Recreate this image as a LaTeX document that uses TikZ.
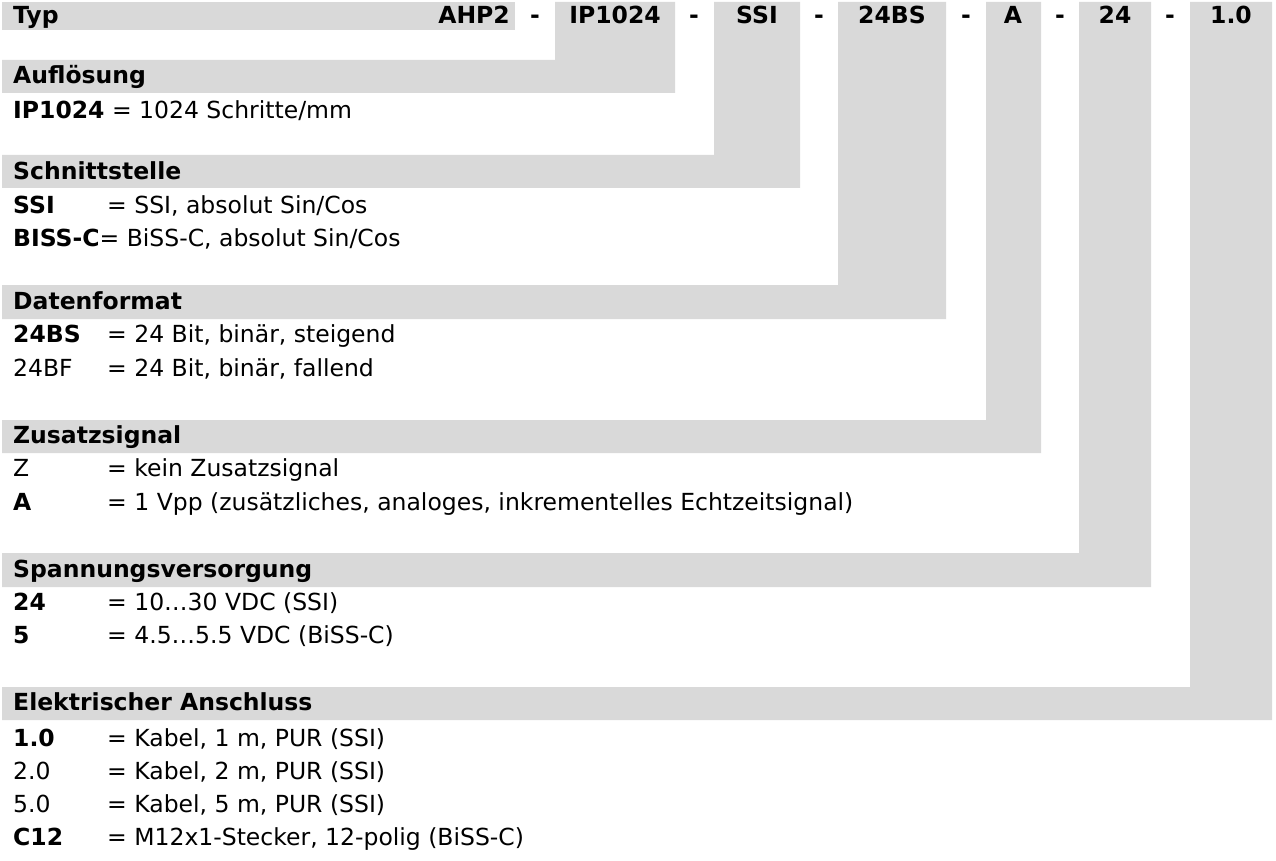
\documentclass[tikz,border=0pt]{standalone}
\usepackage{fontspec}
\setmainfont{DejaVu Sans}
\definecolor{band}{HTML}{D9D9D9}
\begin{document}
\begin{tikzpicture}[x=1pt,y=-1pt,
  txt/.style={anchor=mid west,inner sep=0pt,yshift=-4pt,font=\fontsize{23.5}{25}\selectfont},
  hd/.style={txt,font=\fontsize{23.5}{25}\selectfont\bfseries},
  top/.style={anchor=mid,inner sep=0pt,yshift=-4pt,font=\fontsize{23.5}{25}\selectfont\bfseries}]
\useasboundingbox (0,0) rectangle (1276,861);
\fill[band] (2,2) rectangle (515,30);
\fill[band] (555,2) rectangle (675,93) (2,60) rectangle (675,93);
\fill[band] (714,2) rectangle (800,188) (2,155) rectangle (800,188);
\fill[band] (838,2) rectangle (946,319) (2,285) rectangle (946,319);
\fill[band] (986,2) rectangle (1041,453) (2,420) rectangle (1041,453);
\fill[band] (1079,2) rectangle (1151,587) (2,553) rectangle (1151,587);
\fill[band] (1190,2) rectangle (1272,720) (2,687) rectangle (1272,720);
\node[hd] (typ) at (13,17) {Typ};
\node[top,anchor=mid east] (t1) at (510,17) {AHP2};
\node[top] (t2) at (615,17) {IP1024};
\node[top] (t3) at (757,17) {SSI};
\node[top] (t4) at (892,17) {24BS};
\node[top] (t5) at (1013,17) {A};
\node[top] (t6) at (1115,17) {24};
\node[top] (t7) at (1231,17) {1.0};
\foreach \x [count=\i] in {535,694,819,966,1060,1170}{\node[top] (d\i) at (\x,17) {-};}
\node[hd] (h1) at (13,77) {Auflösung};
\node[txt] (a1) at (13,112) {\textbf{IP1024} = 1024 Schritte/mm};
\node[hd] (h2) at (13,173) {Schnittstelle};
\node[txt] (b1) at (13,207) {\textbf{SSI}};\node[txt] (b1e) at (107,207) {= SSI, absolut Sin/Cos};
\node[txt] (b2) at (13,240) {\textbf{BISS-C}= BiSS-C, absolut Sin/Cos};
\node[hd] (h3) at (13,303) {Datenformat};
\node[txt] (c1) at (13,336) {\textbf{24BS}};\node[txt] (c1e) at (107,336) {= 24 Bit, binär, steigend};
\node[txt] (c2) at (13,370) {24BF};\node[txt] (c2e) at (107,370) {= 24 Bit, binär, fallend};
\node[hd] (h4) at (13,437) {Zusatzsignal};
\node[txt] (e1) at (13,470) {Z};\node[txt] (e1e) at (107,470) {= kein Zusatzsignal};
\node[txt] (e2) at (13,504) {\textbf{A}};\node[txt] (e2e) at (107,504) {= 1 Vpp (zusätzliches, analoges, inkrementelles Echtzeitsignal)};
\node[hd] (h5) at (13,571) {Spannungsversorgung};
\node[txt] (f1) at (13,604) {\textbf{24}};\node[txt] (f1e) at (107,604) {= 10…30 VDC (SSI)};
\node[txt] (f2) at (13,637) {\textbf{5}};\node[txt] (f2e) at (107,637) {= 4.5…5.5 VDC (BiSS-C)};
\node[hd] (h6) at (13,704) {Elektrischer Anschluss};
\node[txt] (g1) at (13,740) {\textbf{1.0}};\node[txt] (g1e) at (107,740) {= Kabel, 1 m, PUR (SSI)};
\node[txt] (g2) at (13,773) {2.0};\node[txt] (g2e) at (107,773) {= Kabel, 2 m, PUR (SSI)};
\node[txt] (g3) at (13,806) {5.0};\node[txt] (g3e) at (107,806) {= Kabel, 5 m, PUR (SSI)};
\node[txt] (g4) at (13,839) {\textbf{C12}};\node[txt] (g4e) at (107,839) {= M12x1-Stecker, 12-polig (BiSS-C)};
\end{tikzpicture}
\end{document}
